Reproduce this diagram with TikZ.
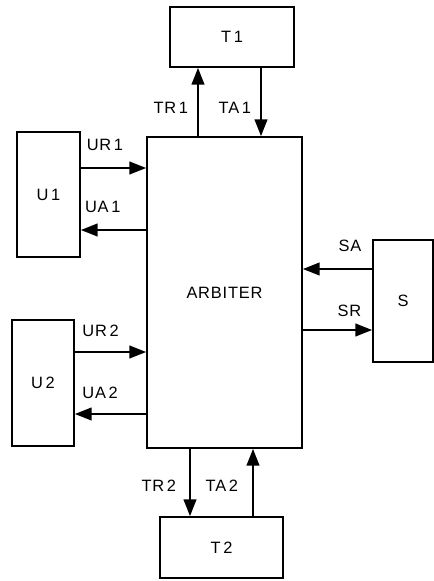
\documentclass[tikz,border=0pt]{standalone}
\usepackage{fontspec}
\setmainfont[LetterSpace=5]{Liberation Sans}
\usetikzlibrary{positioning, arrows.meta}

\begin{document}
\begin{tikzpicture}[
    unit/.style={rectangle, draw, line width=1.5pt, font=\fontsize{14}{16}\selectfont},
    sig/.style={-{Triangle[length=5mm, width=3.8mm]}, line width=1.5pt},
    lbl/.style={inner sep=0pt, font=\fontsize{14}{16}\selectfont},
]
  \useasboundingbox (0,0) rectangle (13.02,-17.43);

  % blocks
  \node[unit, minimum width=4.65cm, minimum height=9.33cm] (arb) at (6.735,-8.775) {ARBITER};
  \node[unit, minimum width=3.72cm, minimum height=1.8cm] (t1) at (6.96,-1.11) {T\,1};
  \node[unit, minimum width=3.69cm, minimum height=1.83cm] (t2) at (6.645,-16.425) {T\,2};
  \node[unit, minimum width=1.89cm, minimum height=3.75cm] (u1) at (1.455,-5.835) {U\,1};
  \node[unit, minimum width=1.86cm, minimum height=3.78cm] (u2) at (1.29,-11.49) {U\,2};
  \node[unit, minimum width=1.8cm, minimum height=3.66cm] (s) at (12.09,-9.03) {S};

  % T1 handshake
  \draw[sig] ([xshift=-0.795cm]arb.north) coordinate (tr1) -- (tr1 |- t1.south)
    node[pos=0.41, left=0.27cm, lbl] {TR\,1};
  \coordinate (ta1) at ([xshift=1.095cm]arb.north);
  \draw[sig] (ta1 |- t1.south) -- (ta1)
    node[pos=0.59, left=0.27cm, lbl] {TA\,1};

  % U1 handshake
  \draw[sig] ([yshift=0.795cm]u1.east) coordinate (ur1) -- (ur1 -| arb.west)
    node[pos=0, above right=0.48cm and 0.15cm, lbl] {UR\,1};
  \coordinate (ua1) at ([yshift=-1.065cm]u1.east);
  \draw[sig] (ua1 -| arb.west) -- (ua1)
    node[pos=1, above right=0.5cm and 0.1cm, lbl] {UA\,1};

  % U2 handshake
  \draw[sig] ([yshift=0.93cm]u2.east) coordinate (ur2) -- (ur2 -| arb.west)
    node[pos=0, above right=0.42cm and 0.2cm, lbl] {UR\,2};
  \coordinate (ua2) at ([yshift=-0.93cm]u2.east);
  \draw[sig] (ua2 -| arb.west) -- (ua2)
    node[pos=1, above right=0.42cm and 0.2cm, lbl] {UA\,2};

  % S handshake
  \draw[sig] ([yshift=0.96cm]s.west) coordinate (sa) -- (sa -| arb.east)
    node[pos=0, above left=0.5cm and 0.3cm, lbl] {SA};
  \coordinate (sr) at ([yshift=-0.87cm]s.west);
  \draw[sig] (sr -| arb.east) -- (sr)
    node[pos=1, above left=0.36cm and 0.3cm, lbl] {SR};

  % T2 handshake
  \draw[sig] ([xshift=-1.035cm]arb.south) coordinate (tr2) -- (tr2 |- t2.north)
    node[pos=0.55, left=0.39cm, lbl] {TR\,2};
  \coordinate (ta2) at ([xshift=0.855cm]arb.south);
  \draw[sig] (ta2 |- t2.north) -- (ta2)
    node[pos=0.45, left=0.42cm, lbl] {TA\,2};
\end{tikzpicture}
\end{document}
